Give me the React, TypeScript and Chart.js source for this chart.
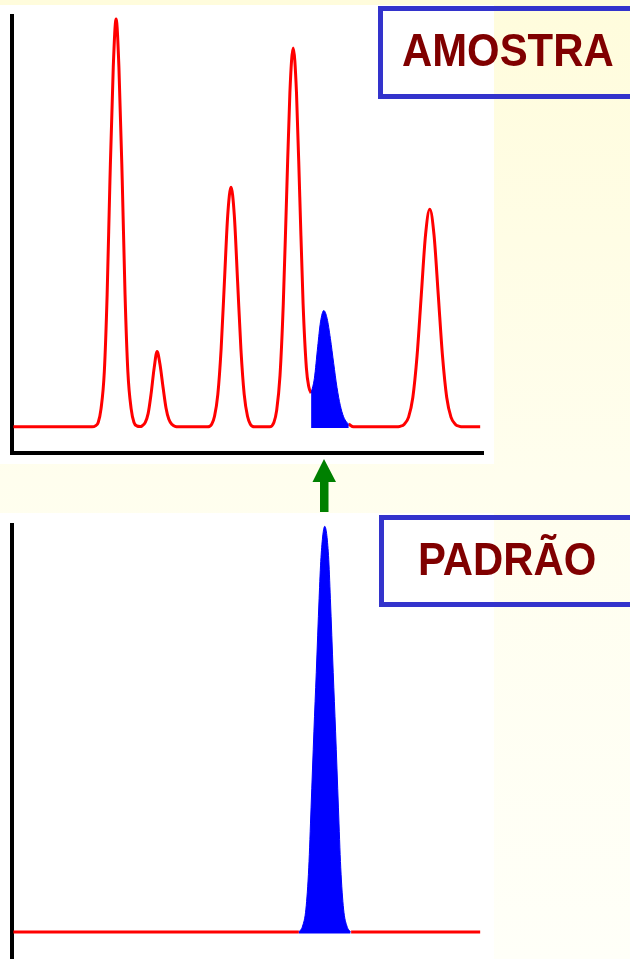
import React, { useEffect, useRef } from 'react';
import { Chart, registerables } from 'chart.js';

Chart.register(...registerables);

// ---- Top chromatogram (AMOSTRA): retention time (0-100) vs signal (0-100)
const sampleTime = [
  0.3, 17.0, 17.7, 18.3, 18.9, 19.6, 20.2, 20.8, 21.5, 22.1, 22.7, 23.4, 24.0, 24.6, 25.3, 25.9, 26.5, 27.2,
  27.6, 28.3, 28.9, 29.5, 30.2, 30.8, 31.4, 32.1, 32.7, 33.3, 34.0, 34.6, 35.4,
  41.5, 42.4, 43.0, 43.7, 44.4, 45.1, 45.8, 46.5, 47.2, 47.9, 48.6, 49.3, 50.0, 50.6, 51.5,
  54.7, 55.6, 56.2, 56.9, 57.6, 58.3, 59.0, 59.7, 60.4, 61.1, 61.8, 62.5, 63.0, 63.5, 67.0, 71.5, 72.5,
  81.5, 82.4, 83.3, 84.2, 85.1, 86.0, 86.9, 87.8, 88.7, 89.6, 90.5, 91.4, 92.3, 93.2, 94.1, 95.0, 95.9, 99.4,
];
const sampleSignal = [
  6, 6, 6.2, 7.0, 10.1, 18.6, 36.3, 62.6, 88.3, 99.3, 88.3, 62.6, 36.3, 18.6, 10.1, 7.0, 6.2, 6.05,
  6.2, 7.0, 9.0, 13.3, 19.6, 23.2, 20.4, 14.8, 10.3, 7.7, 6.5, 6.1, 6,
  6, 6.6, 8.4, 13.4, 23.8, 39.2, 54.4, 60.8, 54.4, 39.2, 23.8, 13.4, 8.4, 6.6, 6,
  6, 7.0, 9.8, 17.7, 34.2, 58.6, 82.5, 92.7, 82.5, 58.6, 34.2, 19.5, 15.2, 13.7, null, 6.6, 6.0,
  6, 6.1, 6.6, 8.2, 12.7, 22.2, 36.2, 49.9, 55.8, 49.9, 36.2, 22.2, 12.7, 8.2, 6.6, 6.1, 6, 6,
];
// highlighted (blue) peak in the sample
const sampleTargetTime = [63.5, 64.2, 64.9, 65.5, 66.2, 66.9, 67.6, 68.3, 69.0, 69.7, 70.4, 71.1, 71.5];
const sampleTargetSignal = [13.7, 17.1, 24.3, 30.0, 32.6, 30.8, 26.2, 20.5, 15.0, 10.9, 8.3, 7.0, 6.6];
const sampleBaseline = 5.7;

// ---- Bottom chromatogram (PADRÃO)
const standardTime = [0.3, 60.9, 61.5, 72.0, 99.4];
const standardSignal = [6.2, 6.2, null, 6.2, 6.2];
const standardPeakTime = [60.9, 61.7, 62.4, 63.0, 63.5, 64.1, 64.6, 65.2, 65.6, 66.4, 67.2, 67.6, 68.2, 68.7, 69.3, 69.8, 70.4, 71.1, 71.9];
const standardPeakSignal = [6.2, 7.6, 11.5, 21, 35, 52.5, 66, 83, 92.5, 99.7, 93, 83, 66, 52.5, 35, 21, 11.5, 7.6, 6.2];
const standardBaseline = 5.9;

const titles = ['AMOSTRA', 'PADRÃO'];

const zip = (xs: number[], ys: (number | null)[]) => xs.map((x, i) => ({ x, y: ys[i] }));

type Props = {
  width: number;
  height: number;
  padding: { left: number; right: number; top: number; bottom: number };
  redX: number[];
  redY: (number | null)[];
  blueX: number[];
  blueY: number[];
  fillLevel: number;
  showXAxis: boolean;
};

function Chromatogram(p: Props) {
  const ref = useRef<HTMLCanvasElement>(null);
  useEffect(() => {
    const chart = new Chart(ref.current as HTMLCanvasElement, {
      type: 'line',
      data: {
        datasets: [
          {
            data: zip(p.blueX, p.blueY) as any,
            borderColor: '#0000FF',
            backgroundColor: '#0000FF',
            borderWidth: 1,
            fill: { value: p.fillLevel } as any,
            pointRadius: 0,
            cubicInterpolationMode: 'monotone',
          },
          {
            data: zip(p.redX, p.redY) as any,
            borderColor: '#FF0000',
            borderWidth: 3,
            fill: false,
            pointRadius: 0,
            spanGaps: false,
            borderJoinStyle: 'round',
            cubicInterpolationMode: 'monotone',
          },
        ],
      },
      options: {
        responsive: false,
        animation: false,
        events: [],
        layout: { padding: p.padding },
        plugins: { legend: { display: false }, tooltip: { enabled: false } },
        scales: {
          x: {
            type: 'linear',
            min: 0,
            max: 100,
            grid: { display: false, drawTicks: false },
            ticks: { display: false },
            border: { display: p.showXAxis, color: '#000000', width: 4 },
          },
          y: {
            type: 'linear',
            min: 0,
            max: 100,
            grid: { display: false, drawTicks: false },
            ticks: { display: false },
            border: { display: true, color: '#000000', width: 4 },
          },
        },
      },
    });
    return () => chart.destroy();
  }, []);
  return <canvas ref={ref} width={p.width} height={p.height} style={{ display: 'block', width: p.width, height: p.height }} />;
}

const boxStyle = (left: number, top: number, height: number): React.CSSProperties => ({
  position: 'absolute',
  left,
  top,
  width: 300,
  height,
  border: '5px solid #3333CC',
  boxSizing: 'border-box',
});

const textStyle = (left: number, top: number): React.CSSProperties => ({
  position: 'absolute',
  left,
  top,
  fontFamily: '"Liberation Sans", Arial, sans-serif',
  fontWeight: 'bold',
  fontSize: 46,
  lineHeight: '46px',
  color: '#800000',
  whiteSpace: 'nowrap',
  transform: 'scaleX(0.91)',
  transformOrigin: 'left top',
});

export default function App() {
  return (
    <div
      style={{
        position: 'fixed',
        left: 0,
        top: 0,
        width: 630,
        height: 959,
        overflow: 'hidden',
        background: 'linear-gradient(to bottom, #FFFCDC 0%, #FFFEEE 50%, #FFFFF8 100%)',
      }}
    >
      <div style={{ position: 'absolute', left: 0, top: 5, width: 494, height: 459, background: '#FFFFFF' }}>
        <Chromatogram
          width={494}
          height={459}
          padding={{ left: 12, right: 11, top: 11, bottom: 11 }}
          redX={sampleTime}
          redY={sampleSignal}
          blueX={sampleTargetTime}
          blueY={sampleTargetSignal}
          fillLevel={sampleBaseline}
          showXAxis={true}
        />
      </div>
      <div style={{ position: 'absolute', left: 0, top: 513, width: 494, height: 446, background: '#FFFFFF' }}>
        <Chromatogram
          width={494}
          height={446}
          padding={{ left: 12, right: 11, top: 12, bottom: 0 }}
          redX={standardTime}
          redY={standardSignal}
          blueX={standardPeakTime}
          blueY={standardPeakSignal}
          fillLevel={standardBaseline}
          showXAxis={false}
        />
      </div>

      <div style={boxStyle(378, 6, 93)} />
      <div style={textStyle(402, 27)}>{titles[0]}</div>

      <div style={boxStyle(379, 515, 92)} />
      <div style={textStyle(418, 536)}>{titles[1]}</div>

      <svg
        width={630}
        height={959}
        style={{ position: 'absolute', left: 0, top: 0, pointerEvents: 'none' }}
      >
        <polygon
          points="324,459 336,482 328.5,482 328.5,512 320,512 320,482 312.5,482"
          fill="#008000"
        />
      </svg>
    </div>
  );
}
